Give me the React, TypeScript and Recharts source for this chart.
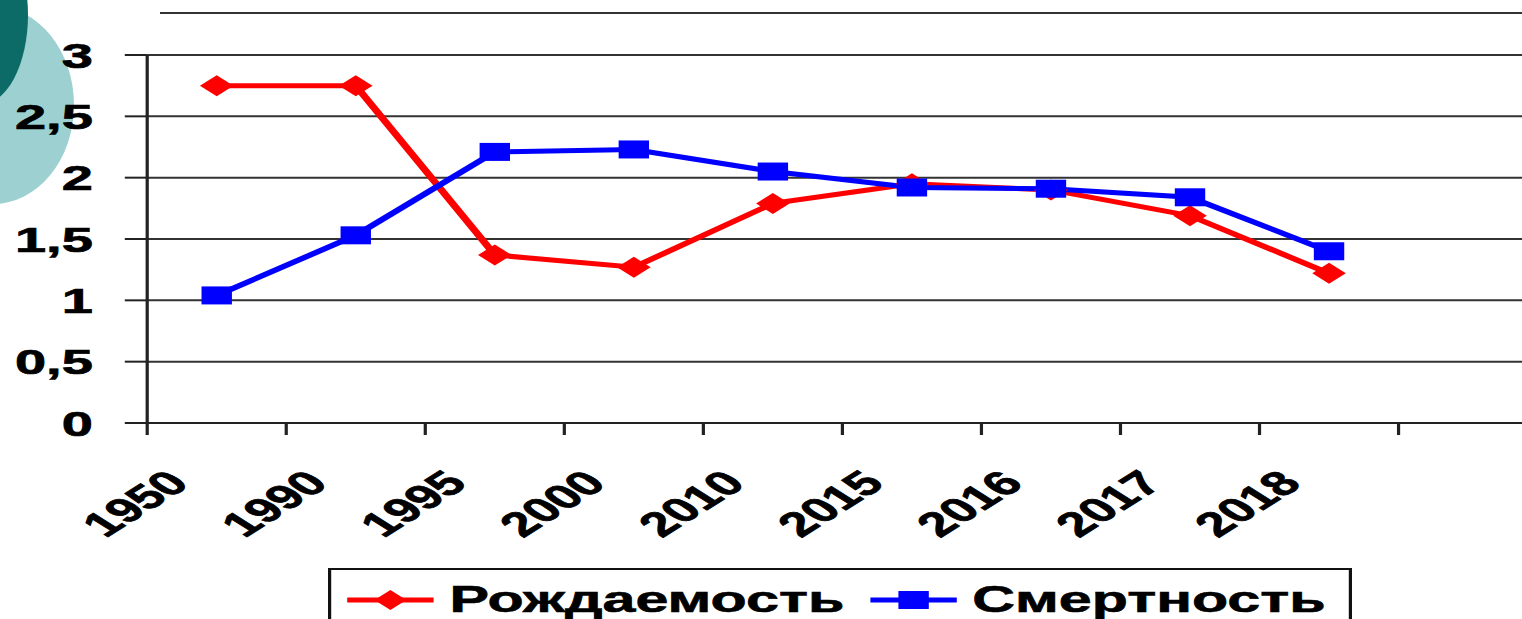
import React from 'react';
import { LineChart, Line, XAxis, YAxis, CartesianGrid, Legend } from 'recharts';

const years = ['1950', '1990', '1995', '2000', '2010', '2015', '2016', '2017', '2018', ''];
const birthRate = [2.75, 2.75, 1.37, 1.27, 1.79, 1.95, 1.9, 1.69, 1.22, null];
const deathRate = [1.04, 1.53, 2.21, 2.23, 2.05, 1.92, 1.91, 1.84, 1.4, null];
const yTicks = [0, 0.5, 1, 1.5, 2, 2.5, 3];
const seriesNames = ['Рождаемость', 'Смертность'];
const seriesColors = ['#ff0000', '#0000ff'];

const data = years.map((year, i) => ({ year, birth: birthRate[i], death: deathRate[i] }));

const FONT = '"Liberation Sans", Arial, Helvetica, sans-serif';
const STRETCH = 1.6;
const CHART_W = 975;
const CHART_H = 619;
const DIAMOND_R = 10.5;

const Diamond = (props: any) => {
  const { cx, cy, value, fill } = props;
  if (value == null || cx == null || cy == null) return <g key={props.key} />;
  const r = DIAMOND_R;
  return (
    <polygon
      key={props.key}
      points={`${cx},${cy - r} ${cx + r},${cy} ${cx},${cy + r} ${cx - r},${cy}`}
      fill={fill}
    />
  );
};

const Square = (props: any) => {
  const { cx, cy, value, fill } = props;
  if (value == null || cx == null || cy == null) return <g key={props.key} />;
  return <rect key={props.key} x={cx - 9.5} y={cy - 9} width={19} height={18} fill={fill} />;
};

const XTick = (props: any) => {
  const { x, y, payload, width, visibleTicksCount } = props;
  const half =
    payload && typeof payload.offset === 'number' && payload.offset > 0
      ? payload.offset
      : width / (visibleTicksCount || years.length) / 2;
  return (
    <g>
      <line x1={x - half} x2={x - half} y1={y} y2={y + 12} stroke="#222" strokeWidth={2} />
      {payload.value ? (
        <text
          transform={`translate(${x - 16},${y + 62}) rotate(-45)`}
          textAnchor="end"
          fontFamily={FONT}
          fontWeight={700}
          fontSize={34}
          fill="#000"
          stroke="#000"
          strokeWidth={0.7}
        >
          {payload.value}
        </text>
      ) : null}
    </g>
  );
};

const LegendIcon = ({ color, kind }: { color: string; kind: number }) => (
  <svg width={54} height={24} style={{ display: 'block', overflow: 'visible' }}>
    <line x1={0} x2={54} y1={12} y2={12} stroke={color} strokeWidth={5} />
    {kind === 0 ? (
      <polygon points="27,2 37,12 27,22 17,12" fill={color} />
    ) : (
      <rect x={17.5} y={3} width={19} height={18} fill={color} />
    )}
  </svg>
);

const LegendBox = (props: any) => {
  const payload = props.payload || [];
  return (
    <div
      style={{
        boxSizing: 'border-box',
        width: 640,
        height: 64,
        border: '2px solid #111',
        background: '#fff',
        display: 'flex',
        alignItems: 'center',
        paddingLeft: 10,
        fontFamily: FONT,
        fontWeight: 700,
        fontSize: 37,
        color: '#000',
        whiteSpace: 'nowrap',
        WebkitTextStroke: '0.6px #000',
      }}
    >
      {payload.map((entry: any, i: number) => (
        <div key={i} style={{ display: 'flex', alignItems: 'center', marginLeft: i ? 16 : 0 }}>
          <LegendIcon color={entry.color} kind={entry.dataKey === 'death' ? 1 : 0} />
          <span style={{ marginLeft: 10 }}>{entry.value}</span>
        </div>
      ))}
    </div>
  );
};

const YTick = (props: any) => {
  const { x, y, payload } = props;
  return (
    <text
      x={x}
      y={y}
      dy="0.36em"
      textAnchor="end"
      fontFamily={FONT}
      fontWeight={700}
      fontSize={35}
      fill="#000"
      stroke="#000"
      strokeWidth={0.7}
    >
      {String(payload.value).replace('.', ',')}
    </text>
  );
};

export default function App() {
  return (
    <div
      style={{
        position: 'absolute',
        left: 0,
        top: 0,
        width: 1522,
        height: 619,
        overflow: 'hidden',
        background: '#fff',
      }}
    >
      <div
        style={{
          position: 'absolute',
          left: -88,
          top: 6,
          width: 162,
          height: 198,
          borderRadius: '50%',
          background: '#9dd0d0',
        }}
      />
      <div
        style={{
          position: 'absolute',
          left: -68,
          top: -75,
          width: 96,
          height: 180,
          borderRadius: '50%',
          background: '#0c6b67',
        }}
      />
      <div
        style={{
          position: 'absolute',
          left: 160,
          right: 0,
          top: 12,
          height: 2,
          background: '#333',
        }}
      />
      <div
        style={{
          position: 'absolute',
          left: 0,
          top: 0,
          width: CHART_W,
          height: CHART_H,
          transform: `scaleX(${STRETCH})`,
          transformOrigin: '0 0',
        }}
      >
        <LineChart
          width={CHART_W}
          height={CHART_H}
          data={data}
          margin={{ top: 55, right: 14, left: 0, bottom: 46 }}
        >
          <CartesianGrid vertical={false} stroke="#333" strokeWidth={2} />
          <XAxis
            dataKey="year"
            type="category"
            scale="band"
            interval={0}
            height={150}
            tickLine={false}
            tickSize={0}
            tickMargin={0}
            axisLine={{ stroke: '#222', strokeWidth: 2 }}
            tick={(p: any) => <XTick {...p} />}
          />
          <YAxis
            domain={[0, 3]}
            ticks={yTicks}
            width={92}
            tickSize={14}
            tickMargin={20}
            axisLine={{ stroke: '#222', strokeWidth: 2 }}
            tickLine={{ stroke: '#222', strokeWidth: 2 }}
            tick={(p: any) => <YTick {...p} />}
          />
          <Legend
            verticalAlign="middle"
            align="center"
            layout="horizontal"
            wrapperStyle={{ top: 568, left: 205, width: 640 }}
            content={(p: any) => <LegendBox {...p} />}
          />
          <Line
            type="linear"
            dataKey="birth"
            name={seriesNames[0]}
            stroke={seriesColors[0]}
            strokeWidth={5}
            dot={(p: any) => <Diamond {...p} fill={seriesColors[0]} />}
            activeDot={false}
            isAnimationActive={false}
          />
          <Line
            type="linear"
            dataKey="death"
            name={seriesNames[1]}
            stroke={seriesColors[1]}
            strokeWidth={5}
            dot={(p: any) => <Square {...p} fill={seriesColors[1]} />}
            activeDot={false}
            isAnimationActive={false}
          />
        </LineChart>
      </div>
    </div>
  );
}
